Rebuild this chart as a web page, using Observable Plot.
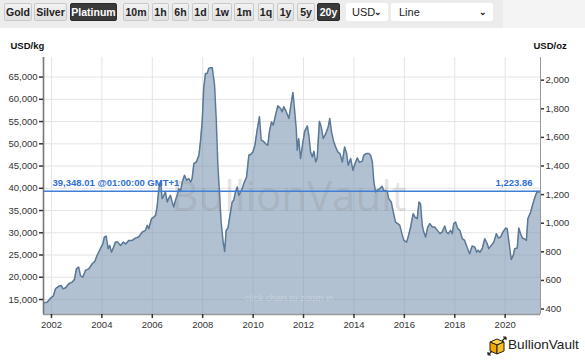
<!DOCTYPE html>
<html>
<head>
<meta charset="utf-8">
<script src="https://cdn.jsdelivr.net/npm/d3@7"></script>
<script src="https://cdn.jsdelivr.net/npm/@observablehq/plot@0.6"></script>
<style>
  html, body { margin: 0; padding: 0; background: #ffffff; width: 585px; height: 361px; overflow: hidden; font-family: "Liberation Sans", Arial, sans-serif; }
  #toolbar { position: absolute; left: 0; top: 0; width: 585px; height: 28px; background: #f4f4f4; }
  #toolbar .band { position: absolute; left: 0; top: 0; width: 503px; height: 28px; background: #ececec; }
  .btn { position: absolute; top: 3px; height: 16px; border: 1px solid #c9c9c9; border-radius: 2px; background: linear-gradient(#f2f2f2, #e0e0e0); font: bold 10.5px "Liberation Sans", Arial, sans-serif; color: #222; line-height: 16px; text-align: center; box-sizing: content-box; }
  .btn.on { background: #3a3a3a; border-color: #2a2a2a; color: #fff; }
  .sel { position: absolute; top: 3px; height: 18px; background: #fff; border-radius: 2px; font: 11px "Liberation Sans", Arial, sans-serif; color: #222; line-height: 18px; }
  .sel .arrow { position: absolute; right: 6px; top: 0; font-size: 9px; font-weight: bold; }
  #chart { position: absolute; left: 0; top: 30px; }
  #logo { position: absolute; left: 487px; top: 336px; height: 20px; }
  #logo span { position: absolute; left: 21px; top: 1px; font: 13.6px "Liberation Sans", Arial, sans-serif; color: #222; white-space: nowrap; }
</style>
</head>
<body>
<div id="toolbar"><div class="band"></div></div>
<div id="chart"></div>
<div id="logo">
  <svg width="20" height="20" viewBox="0 0 20 20">
    <polygon points="3,6 10,3 17,6 10,9" fill="#ffd24a" stroke="#222" stroke-width="1"/>
    <polygon points="3,6 10,9 10,18 3,15" fill="#f0a800" stroke="#222" stroke-width="1"/>
    <polygon points="10,9 17,6 17,15 10,18" fill="#f7bd22" stroke="#222" stroke-width="1"/>
    <path d="M1,19 L5,15 M1,19 L1,16 M1,19 L4,19" stroke="#222" stroke-width="1.2" fill="none"/>
    <path d="M19,1 L15,5 M19,1 L16,1 M19,1 L19,4" stroke="#222" stroke-width="1.2" fill="none"/>
  </svg>
  <span>BullionVault</span>
</div>
<script>
// ---- data (decimal year, USD per kg) ----
const years = [
  2001.69, 2001.83, 2001.96, 2002.07, 2002.16, 2002.29, 2002.38, 2002.46, 2002.56, 2002.69,
  2002.82, 2002.91, 2002.99, 2003.08, 2003.15, 2003.24, 2003.35, 2003.48, 2003.62, 2003.72,
  2003.81, 2003.94, 2004.04, 2004.10, 2004.17, 2004.25, 2004.31, 2004.38, 2004.45, 2004.54,
  2004.63, 2004.74, 2004.85, 2004.94, 2005.07, 2005.20, 2005.33, 2005.46, 2005.60, 2005.73,
  2005.80, 2005.86, 2005.97, 2006.06, 2006.13, 2006.19, 2006.26, 2006.33, 2006.39, 2006.46,
  2006.52, 2006.59, 2006.65, 2006.72, 2006.79, 2006.85, 2006.92, 2006.99, 2007.05, 2007.12,
  2007.19, 2007.28, 2007.36, 2007.45, 2007.52, 2007.58, 2007.65, 2007.75, 2007.85, 2007.91,
  2007.98, 2008.04, 2008.11, 2008.18, 2008.24, 2008.31, 2008.38, 2008.47, 2008.54, 2008.60,
  2008.67, 2008.73, 2008.81, 2008.87, 2008.93, 2009.00, 2009.08, 2009.17, 2009.23, 2009.30,
  2009.37, 2009.43, 2009.50, 2009.57, 2009.63, 2009.74, 2009.83, 2009.90, 2009.99, 2010.07,
  2010.16, 2010.25, 2010.32, 2010.40, 2010.49, 2010.58, 2010.65, 2010.73, 2010.80, 2010.89,
  2010.98, 2011.09, 2011.15, 2011.22, 2011.31, 2011.42, 2011.48, 2011.58, 2011.64, 2011.71,
  2011.75, 2011.81, 2011.88, 2011.95, 2012.04, 2012.15, 2012.21, 2012.28, 2012.35, 2012.41,
  2012.48, 2012.54, 2012.63, 2012.70, 2012.78, 2012.85, 2012.91, 2012.98, 2013.04, 2013.11,
  2013.18, 2013.27, 2013.36, 2013.44, 2013.54, 2013.63, 2013.71, 2013.77, 2013.87, 2013.96,
  2014.02, 2014.13, 2014.22, 2014.33, 2014.39, 2014.49, 2014.59, 2014.66, 2014.73, 2014.79,
  2014.86, 2014.92, 2015.03, 2015.12, 2015.19, 2015.25, 2015.32, 2015.38, 2015.48, 2015.56,
  2015.65, 2015.74, 2015.82, 2015.92, 2015.98, 2016.09, 2016.15, 2016.25, 2016.35, 2016.42,
  2016.51, 2016.58, 2016.64, 2016.71, 2016.77, 2016.84, 2016.93, 2017.01, 2017.11, 2017.20,
  2017.31, 2017.41, 2017.50, 2017.60, 2017.67, 2017.74, 2017.83, 2017.90, 2017.96, 2018.03,
  2018.12, 2018.20, 2018.30, 2018.39, 2018.50, 2018.59, 2018.69, 2018.79, 2018.87, 2018.93,
  2019.00, 2019.09, 2019.19, 2019.29, 2019.35, 2019.45, 2019.55, 2019.65, 2019.73, 2019.82,
  2019.91, 2020.02, 2020.08, 2020.15, 2020.24, 2020.32, 2020.38, 2020.48, 2020.54, 2020.61,
  2020.68, 2020.77, 2020.84, 2020.90, 2021.01, 2021.10, 2021.18, 2021.27, 2021.34, 2021.40
];
const usdPerKg = [
  14260, 14400, 15300, 15750, 17410, 18000, 18150, 17400, 17640, 18540,
  18900, 19500, 21900, 22280, 20400, 20000, 21540, 21900, 23040, 23560,
  24900, 26400, 27540, 29040, 29260, 26400, 27160, 25650, 26560, 27900,
  27900, 27160, 27900, 27500, 28290, 28290, 28800, 29040, 30160, 30540,
  31670, 30920, 33170, 33540, 33920, 35800, 39930, 41420, 37680, 38420,
  39170, 36920, 37680, 38420, 36920, 35800, 37300, 38420, 39930, 39250,
  41420, 42930, 41800, 42180, 41420, 42180, 45560, 45920, 47430, 50430,
  54930, 62450, 65830, 65830, 66960, 67100, 67100, 63200, 54930, 45180,
  38420, 32410, 27900, 25800, 30540, 31060, 33920, 36920, 37300, 39170,
  40290, 38420, 39170, 39930, 41050, 42540, 47430, 47580, 48170, 49680,
  53060, 56060, 50810, 50600, 50060, 49680, 52840, 54930, 54190, 56440,
  58540, 57940, 57190, 58350, 57230, 55690, 57940, 61550, 57950, 53440,
  48560, 51190, 46690, 49300, 52690, 54030, 51940, 48170, 47050, 48330,
  45920, 46690, 55090, 53810, 51190, 51940, 52690, 53810, 55690, 52690,
  50810, 49300, 48170, 47810, 45920, 49300, 47810, 45180, 46690, 44050,
  45180, 46820, 45810, 46100, 47430, 47810, 47810, 47430, 45920, 41420,
  39170, 39550, 39930, 40450, 39320, 39550, 39320, 37680, 36920, 34670,
  32410, 32050, 31670, 29420, 28290, 27900, 29040, 31290, 34300, 33540,
  33170, 36920, 36550, 31670, 30160, 29040, 31290, 32050, 31290, 31290,
  30540, 29800, 30160, 31510, 30160, 29800, 30540, 29800, 32050, 32410,
  30920, 30540, 28670, 28290, 26560, 25290, 27050, 26800, 25650, 26050,
  25650, 26430, 28670, 27540, 26430, 27160, 27900, 29800, 28820, 29040,
  30160, 31060, 30920, 27900, 24010, 24910, 26430, 26560, 31060, 29800,
  28820, 28600, 28290, 33170, 34670, 36550, 38040, 39320, 39170, 39348.01
];
const leftTicksKg = [15000, 20000, 25000, 30000, 35000, 40000, 45000, 50000, 55000, 60000, 65000];
const rightTicksOz = [400, 600, 800, 1000, 1200, 1400, 1600, 1800, 2000];
const xTickYears = [2002, 2004, 2006, 2008, 2010, 2012, 2014, 2016, 2018, 2020];
const metals = ["Gold", "Silver", "Platinum"];
const ranges = ["10m", "1h", "6h", "1d", "1w", "1m", "1q", "1y", "5y", "20y"];
const currency = "USD";
const chartType = "Line";
const lastKgLabel = "39,348.01 @01:00:00 GMT+1";
const lastOzLabel = "1,223.86";
const lastKg = 39348.01;
const OZ_PER_KG = 32.1507;
const xDomainYears = [2001.683, 2021.40];
const yDomainKg = [11630, 69400];

// ---- toolbar ----
const tb = document.getElementById("toolbar");
const btnPos = {
  Gold: [4, 26], Silver: [34, 31], Platinum: [70, 45],
  "10m": [123, 24], "1h": [152, 15], "6h": [172, 15], "1d": [192, 15], "1w": [212, 18],
  "1m": [234, 18], "1q": [258, 14], "1y": [277, 15], "5y": [297, 16], "20y": [317, 21]
};
[...metals, ...ranges].forEach(name => {
  const b = document.createElement("div");
  b.className = "btn" + (name === "Platinum" || name === "20y" ? " on" : "");
  b.style.left = btnPos[name][0] + "px";
  b.style.width = btnPos[name][1] + "px";
  b.textContent = name;
  tb.appendChild(b);
});
[[346, 42, currency], [391, 102, chartType]].forEach(([l, w, t]) => {
  const s = document.createElement("div");
  s.className = "sel";
  s.style.left = l + "px"; s.style.width = w + "px";
  s.innerHTML = `<span style="position:absolute;left:${t === currency ? 6 : 8}px">${t}</span><span class="arrow">&#8964;</span>`;
  tb.appendChild(s);
});

// ---- chart ----
function decYear(y) {
  const yr = Math.floor(y);
  const s = Date.UTC(yr, 0, 1), e = Date.UTC(yr + 1, 0, 1);
  return new Date(s + (y - yr) * (e - s));
}
const data = years.map((y, i) => ({date: decYear(y), v: usdPerKg[i]}));
const xTicks = xTickYears.map(y => new Date(Date.UTC(y, 0, 1)));
const x0 = decYear(xDomainYears[0]), x1 = decYear(xDomainYears[1]);
const fmt = d3.format(",");

const chart = Plot.plot({
  width: 585,
  height: 331,
  marginTop: 27,
  marginBottom: 47,
  marginLeft: 43,
  marginRight: 45,
  style: {fontFamily: "'Liberation Sans', Arial, sans-serif", fontSize: "9.5px", color: "#333", background: "transparent", overflow: "visible"},
  x: {type: "utc", domain: [x0, x1]},
  y: {domain: yDomainKg},
  marks: [
    Plot.gridY(leftTicksKg, {stroke: "#e4e4e4", strokeOpacity: 1}),
    Plot.gridX(xTicks, {stroke: "#e4e4e4", strokeOpacity: 1}),
    Plot.areaY(data, {x: "date", y1: yDomainKg[0], y2: "v", fill: "#7f97b3", fillOpacity: 0.6}),
    Plot.lineY(data, {x: "date", y: "v", stroke: "#5a7898", strokeWidth: 1.5}),
    Plot.text(["BullionVault"], {frameAnchor: "middle", dx: -3, dy: 12, fontSize: 42, fill: "#888", fillOpacity: 0.22, fontFamily: "'Open Sans', 'Liberation Sans', sans-serif"}),
    Plot.text(["click chart to zoom in"], {frameAnchor: "bottom", dx: -3, dy: -14, fontSize: 9.5, fill: "#ffffff", fillOpacity: 0.25}),
    Plot.ruleY([lastKg], {stroke: "#3f7fd6", strokeWidth: 1.5}),
    Plot.text([lastKgLabel], {x: x0, y: lastKg, dx: 9, dy: -8, textAnchor: "start", fill: "#2f6fd4", fontSize: 9.5, fontWeight: "bold"}),
    Plot.text([lastOzLabel], {x: x1, y: lastKg, dx: -8, dy: -8, textAnchor: "end", fill: "#2f6fd4", fontSize: 9.5, fontWeight: "bold"}),
    Plot.ruleX([x1], {stroke: "#999", strokeWidth: 1}),
    Plot.ruleX([x0], {stroke: "#777", strokeWidth: 1.6}),
    Plot.ruleY([yDomainKg[0]], {stroke: "#999", strokeWidth: 1.6}),
    Plot.axisY(leftTicksKg, {anchor: "left", tickSize: 4, tickPadding: 2, tickFormat: fmt, label: null, strokeWidth: 1.5}),
    Plot.axisY(rightTicksOz.map(v => v * OZ_PER_KG), {anchor: "right", tickSize: 3, tickPadding: 2, tickFormat: d => fmt(Math.round(d / OZ_PER_KG)), label: null, strokeWidth: 1.5}),
    Plot.axisX(xTicks, {anchor: "bottom", tickSize: 4, tickPadding: 3, tickFormat: d => String(d.getUTCFullYear()), label: null, strokeWidth: 1.5}),
    Plot.text(["USD/kg"], {frameAnchor: "top-left", dx: -33, dy: -15, textAnchor: "start", fontWeight: "bold", fontSize: 9.5, fill: "#111"}),
    Plot.text(["USD/oz"], {frameAnchor: "top-right", dx: -7, dy: -15, textAnchor: "start", fontWeight: "bold", fontSize: 9.5, fill: "#111"})
  ]
});
document.getElementById("chart").appendChild(chart);
</script>
</body>
</html>
